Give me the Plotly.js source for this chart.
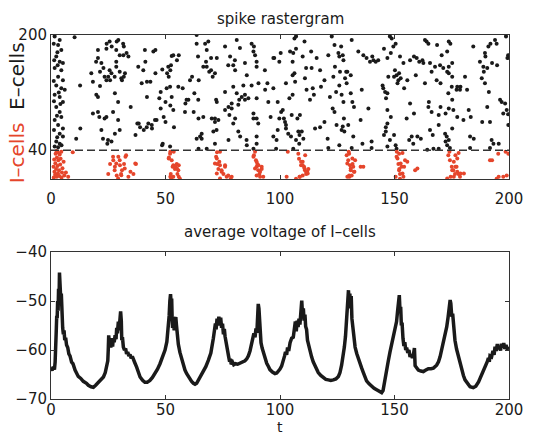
<!DOCTYPE html>
<html>
<head>
<meta charset="utf-8">
<script src="https://cdn.plot.ly/plotly-3.0.1.min.js"></script>
<style>html,body{margin:0;padding:0;background:#fff;}#chart{width:536px;height:437px;}</style>
</head>
<body>
<div id="chart"></div>
<script>
// ---- data ----
var titleTop = 'spike rastergram';
var titleBottom = 'average voltage of I–cells';
var xLabel = 't';
var xTicks = [0, 50, 100, 150, 200];
var rasterYTicks = [40, 200];
var voltYTicks = [-70, -60, -50, -40];
var iCellBoundary = 40;

// E-cell spikes: [time, cell index]
var eSpikes = [
[1.6,198],[3.8,193],[3.1,186],[4.5,179],[2.3,170],[3.8,163],[5.2,161],[1.6,154],[4.5,151],[3.1,142],[5.2,137],[2.3,130],[4.5,126],[6,124],[1.6,117],[3.8,114],[5.2,107],[2.3,100],[3.8,93],[4.5,86],[1.6,82],[3.1,75],[5.2,70],[3.8,63],[5.2,59],[2.3,52],[3.8,49],[1.6,45],[3.1,44],
[1.2,188],[2.8,176],[1.4,165],[2.9,158],[1.2,136],[3.4,120],[1.3,108],[4.1,104],[2.6,88],[1.3,68],[2.7,58],[4.6,47],
[10.3,197],[12.7,130],[12.8,70],[11,56],[25.6,191],[24.2,181],[20.5,168],[17.6,147],[18.3,135],[19.8,117],[20.5,114],[18.3,91],[23.4,84],[24.2,86],[22.7,56],[24.9,54],[26.4,52],[30,68],[29.3,82],[25.6,151],[26.4,147],[28.5,156],[27.8,142],[30,149],[30.7,140],[28.5,163],[29.3,107],[27.1,93],[22,161],[20.5,179],[23.4,142],[24.2,137],[20.5,93],[31.5,188],[30,172],[28.5,179],[22,68],
[19.7,163],[21.4,129],[21.1,86],[21.4,149],[22.9,154],[24.3,188],[25.0,142],[25.8,137],[24.6,49],[26.5,184],[27.9,119],[28.7,191],[29.4,193],[27.9,63],[31.6,172],[32.3,147],[33.0,175],
[33.8,170],[34.8,100],[37.7,77],[38.1,156],[38.9,72],[39.6,133],[40.3,151],[41.0,179],[41.8,72],[42.5,77],[44.0,75],[44.7,177],[45.4,82],[46.1,82],[47.3,112],[47.9,98],[48.8,49],[48.6,152],[47.9,121],[50.5,126],[51.2,156],[52.0,128],[52.4,158],[52.7,171],[53.4,172],[52.7,114],[53.4,96],[53.7,72],[52.0,45],[55.6,128],[57.5,126],[59.2,110],[60.0,110],[58.5,93],[60.7,137],[62.6,119],[63.6,200],[64.2,170],[65.1,59],[64.3,110],[65.8,56],[66.5,86],
[31.8,184],[45.6,179],[55.8,172],[55,165],[41.2,163],[31.8,142],[31,137],[45.6,147],[50.7,147],[52.1,151],[51.4,142],[41.9,135],[43.4,135],[61.6,142],[64.5,137],[41.9,114],[50,107],[52.1,102],[58.7,105],[62.3,93],[49.2,86],[50,79],[44.1,70],[38.3,77],[40.5,68],[36.9,61],[48.5,47],
[67.7,163],[68.7,191],[69.1,149],[69.9,151],[69.9,168],[70.6,142],[70.9,66],[71.6,84],[72.1,110],[72.3,68],[73.1,82],[71.6,49],[76.0,121],[77.4,158],[78.2,170],[79.6,128],[80.3,165],[81.1,193],[81.1,119],[78.9,105],[77.9,89],[79.6,77],[82.5,182],[82.2,110],[84.0,130],[84.7,110],[85.4,54],[87.6,188],[88.6,184],[89.1,172],[89.8,163],[87.6,130],[86.2,112],[89.8,112],[90.5,77],[88.4,84],[89.8,49],[93.4,151],[94.5,133],[94.9,107],[95.9,86],[97.1,59],[98.5,54],[99.7,163],
[63.6,188],[67.3,188],[68,179],[76,184],[88.4,177],[97.1,168],[72.4,168],[66.5,156],[68,156],[79.6,158],[84.7,161],[80.4,151],[89.8,156],[71.6,147],[85.5,144],[90.6,133],[93.5,124],[97.1,126],[72.4,107],[84.7,117],[83.3,114],[81.8,103],[78.9,98],[76,96],[77.5,100],[80.4,84],[88.4,91],[89.8,84],[70.2,84],[71.6,79],[64.4,84],[81.8,66],[65.8,63],[63.6,56],[89.8,59],[82.6,59],[77.5,54],[85.5,47],[64.4,42],[68,42],[88.4,42],
[100.3,175],[101.2,96],[101.7,84],[102.2,79],[102.6,75],[103.6,63],[104.4,177],[105.5,117],[106.6,135],[107.6,84],[105.8,175],[105.1,89],[108.0,66],[108.4,49],[109.5,66],[110.2,56],[108.7,89],[110.9,140],[111.6,124],[113.1,110],[113.8,154],[114.8,117],[116.0,168],[117.5,151],[115.3,70],[117.5,72],[121.1,172],[121.8,114],[122.6,198],[123.3,142],[124.0,156],[124.7,75],[125.5,175],[126.2,149],[126.9,68],[127.7,107],[128.4,140],[129.1,133],[129.8,75],[131.3,193],[132.0,59],[127.7,165],[125.9,130],[126.9,117],[127.9,84],[105.8,42],[121.1,43],[131.3,43],
[106.3,195],[107,198],[110.7,191],[123.8,186],[126.7,184],[97.5,168],[105.5,163],[107,181],[109.9,170],[113.6,177],[125.9,170],[127.4,172],[111.4,154],[128.9,149],[102.6,133],[105.5,144],[106.3,147],[114.3,126],[117.9,128],[119.4,137],[124.5,121],[104.1,112],[99,107],[123,98],[123.8,93],[100.5,93],[99.7,84],[102.6,70],[99,68],[119.4,79],[127.4,73],[128.1,66],[108.5,61],[104.8,59],[120.8,56],[107,54],[98.3,42],[125.9,47],
[134.2,177],[136.4,172],[137.8,168],[138.6,98],[139.3,163],[140.8,165],[140.0,52],[135.7,124],[142.9,165],[144.8,130],[145.1,126],[145.9,121],[146.3,112],[147.3,142],[148.0,198],[148.8,195],[146.9,77],[148.0,54],[149.5,184],[150.2,151],[150.9,42],[150.9,144],[151.7,137],[152.4,170],[153.9,161],[156.8,165],[155.3,84],[157.5,59],[158.2,49],[156.8,105],[159.7,168],[160.8,163],[162.6,161],[163.3,193],[164.0,191],[163.3,133],[164.8,100],[165.5,161],[166.2,149],[164.8,188],[166.2,93],[165.5,68],[166.7,61],[167.0,42],[140.0,43],
[145.4,181],[150.5,188],[140.3,170],[141.8,163],[146.9,168],[148.4,175],[158.5,170],[162.2,165],[129.4,149],[149.8,142],[152,147],[152.7,140],[155.6,137],[159.3,144],[130.9,144],[146.9,119],[151.3,133],[154.2,126],[130.9,119],[131.6,107],[132.3,100],[146.9,96],[148.4,86],[135.2,82],[158.5,91],[146.2,72],[146.2,66],[145.4,61],[149.8,61],[156.4,54],[160,59],[161.5,56],[136,49],[146.9,45],[150.5,47],
[167.7,156],[168.4,137],[169.9,158],[170.6,172],[171.3,154],[172.1,63],[172.8,59],[173.5,119],[175.0,128],[175.7,96],[177.1,124],[178.6,124],[180.1,82],[183.0,59],[183.3,86],[180.8,142],[184.4,184],[187.3,163],[188.1,140],[188.8,156],[189.5,175],[189.5,133],[191.0,184],[191.7,79],[192.4,54],[193.2,49],[193.9,193],[194.6,188],[196.1,110],[196.8,107],[197.5,91],[198.3,105],[199.0,96],[198.7,198],[199.3,168],[199.7,75],[174.2,43],[183.0,43],[191.7,43],[199.6,172],[199.6,90],
[168.6,186],[173.7,191],[174.4,188],[191.9,188],[173,177],[189.7,170],[173.7,156],[175.2,161],[192.6,161],[194.8,158],[173,149],[173.7,147],[175.2,142],[189,149],[190.5,154],[170.1,133],[177.4,128],[178.8,128],[181.7,124],[191.2,121],[165,107],[175.2,110],[170.1,100],[173.7,98],[182.4,96],[190.5,100],[169.3,89],[172.3,91],[177.4,86],[188.3,79],[169.3,75],[175.2,70],[173.7,54],[172.3,52],[184.6,56],[195.5,49],[169.3,42],[164.3,40.5],[173,47]
];

// I-cell spikes: [time, cell index]
var iSpikes = [
[1.2,2],[1.8,6],[2.5,3],[1.5,10],[2.2,14],[3,8],[2.8,18],[3.5,12],[1.9,22],[3.2,26],[4,20],[2.6,30],[3.8,34],[4.5,38],[3,37],[4.2,28],[5,15],[5.8,5],[4.6,2],[2,35],[6.5,9],[7.5,3],[9.5,37],[1.4,27],[2.4,39],[3.6,4],[4.8,9],[1.1,17],[5.5,24],
[27.1,31],[28.5,21.5],[30,26],[32.2,14.6],[27.8,12],[30.7,5.3],[29.3,0.7],[25.8,21],[27.2,26],[27.9,17],[29.4,31],[30.1,19],[30.6,7],[31.9,21],[32.8,33],[33.8,3],[36,7],[37.1,21],[25,7],[28.7,5],[32.5,31],[36.8,21.5],[34.7,10],[31,12],
[52,35],[52.7,26],[53.4,19],[54.1,14],[54.9,21],[55.6,12],[55.2,7],[53.4,3],[56.3,0.5],[52.3,7],[53.1,17],[52.1,38],[53.6,38],[54.3,17],[55.8,19],[55,14.6],[52.1,3],[55.8,3],[51.4,28.5],[51.5,30],[52.5,1.5],
[72.1,31],[72.6,21],[73.1,14],[73.8,19],[74.5,12],[75.3,7],[76,17],[76.7,3],[77.4,5],[78.5,0.5],[73.5,24],[73.8,38],[72.4,28.5],[71.6,21.5],[74.5,10],[72.4,7.6],[73.8,0.7],[78.9,3],[76,19],[72.5,37],
[88.6,33],[89.5,26],[89.8,17],[90.5,12],[91,7],[91.3,3],[92,14],[90.1,21],[89.1,38],[88.4,31],[89.8,24],[90.6,19],[92,17],[89.1,14.6],[91.3,10],[89.8,5],[92.7,3],
[108.3,28],[109.2,19],[109.9,24],[110.5,17],[110.9,12],[111.4,7],[111.9,10],[112.4,14],[108.7,3],[102.9,3],[109.2,24],[109.9,19],[110.7,14.6],[111.4,10],[109.9,5],[108.5,3],[112.1,7.6],[103.4,38],[107,0.5],[108,35],[111,33],
[129.1,33],[129.8,26],[130.6,19],[130.9,12],[131.3,5],[132,17],[130.3,3],[131.7,21],[136.4,17],[132.8,26],[130.2,35],[131.6,28.5],[129.4,21.5],[130.9,14.6],[132.3,10],[130.2,5],[135.2,17],[129.4,3],[130,38],[132.5,10],
[150.9,31],[151.7,21],[152.1,14],[152.4,7],[153.1,17],[153.9,3],[154.6,26],[159,12],[152.4,0.5],[152,35],[151.3,28.5],[152.7,21.5],[154.2,17],[152,12],[153.5,7.6],[150.5,3],[155.6,24],[160,14.6],[151,38],[153.5,36],
[173.5,33],[174.2,26],[175,17],[175.7,12],[176.4,7],[177.1,17],[177.9,7],[178.6,3],[174.5,3],[191.7,26],[176.6,33],[177.4,28.5],[175.9,24],[176.6,17],[175.2,12],[177.4,10],[178.8,7.6],[175.9,3],[180.3,7.6],[192.6,26],[195.5,3],[173,0.7],[174,38],[178,36],
[195.3,35],[197.5,3],[199,5],[199.7,35],[194.6,0.5],[198.5,38]
];

// average voltage of I-cells: time and value
var voltT = [0,0.5,1.0,1.5,1.8,2.1,2.3,2.5,2.7,2.9,3.1,3.3,3.5,3.7,3.9,4.1,4.3,4.5,4.7,4.9,5.1,5.4,5.7,6.0,6.4,6.8,7.3,7.8,8.3,9.0,9.6,10.5,11.9,13.0,14.1,15.5,16.3,17.5,18.5,19.5,20.7,21.8,22.9,23.7,24.3,24.8,25.0,25.2,25.5,25.8,26.1,26.5,26.9,27.2,27.6,28.0,28.4,28.7,29.0,29.4,29.7,30.0,30.4,30.7,30.9,31.2,31.6,32.1,32.6,33.0,33.5,34.0,34.5,35.0,35.5,36.0,36.6,37.4,38.2,38.9,40.0,41.0,42.0,43.2,44.3,45.4,46.5,47.6,48.7,49.8,50.6,51.2,51.6,51.9,52.2,52.5,52.7,52.9,53.1,53.4,53.8,54.1,54.5,54.8,55.2,55.6,56.3,57.1,57.8,58.5,59.2,60.0,61.4,62.2,62.9,63.6,64.3,65.4,66.5,67.6,68.7,69.8,70.9,71.4,71.8,72.1,72.5,72.9,73.3,73.7,74.1,74.5,74.9,75.3,75.7,76.0,76.4,76.8,77.2,77.6,78.0,78.3,78.7,79.3,79.8,80.5,81.5,82.5,83.5,84.7,85.5,86.2,86.9,87.6,88.1,88.6,89.1,89.5,89.9,90.2,90.5,90.8,91.0,91.3,91.7,92.2,92.7,93.4,94.2,95.0,95.6,96.7,97.8,98.6,99.3,100.0,100.7,101.4,102.0,102.4,102.9,103.3,103.8,104.4,105.1,105.8,106.3,106.7,107.1,107.5,107.9,108.3,108.7,109.1,109.5,109.8,110.2,110.5,110.9,111.2,111.6,112.0,112.4,113.1,113.8,114.5,115.3,116.0,116.7,117.8,118.9,120.0,121.1,122.2,123.3,124.4,125.5,126.2,126.9,127.6,128.1,128.6,129.0,129.3,129.6,129.9,130.2,130.5,130.8,131.1,131.4,131.8,132.2,132.8,133.5,134.2,134.9,135.6,136.4,137.1,137.8,138.9,140.0,141.1,142.2,143.3,144.4,145.0,145.6,146.1,146.6,147.3,148.0,148.7,149.5,150.2,150.9,151.4,151.8,152.1,152.4,152.7,153.0,153.3,153.7,154.1,154.5,154.9,155.3,155.8,156.3,156.8,157.3,157.8,158.3,158.7,159.0,159.6,160.4,161.5,162.6,163.7,164.8,165.9,167.0,168.4,169.2,169.9,170.6,171.3,172.1,172.8,173.4,173.9,174.3,174.6,175.0,175.4,175.8,176.4,177.1,177.9,178.6,179.3,180.1,180.8,181.9,183.0,184.4,185.5,186.7,187.8,188.8,189.9,190.6,191.0,191.4,191.7,192.4,193.0,193.5,193.9,194.4,194.9,195.3,195.8,196.3,196.7,197.2,197.7,198.2,198.7,199.3,200];
var voltV = [-63.5,-64.2,-63.4,-64.0,-62.5,-60,-56,-53,-53.5,-50,-52,-47.5,-50.5,-44.2,-47,-45,-50,-48.5,-52.5,-51.5,-55.5,-56.8,-56,-58,-57.5,-59,-59.5,-60.8,-61.2,-62.5,-62.8,-64.1,-65.4,-65.8,-66.4,-66.8,-67.2,-67.5,-67.6,-67.2,-66.6,-66.2,-65.5,-64.6,-63.6,-62.2,-60,-57,-58.5,-57.6,-59.5,-58.2,-59.3,-57.6,-58.4,-57,-57.8,-55.5,-56.6,-54.2,-56,-53,-52.1,-54,-58,-57.4,-59.4,-60,-59.7,-60.8,-60.4,-61.2,-60.9,-61.7,-61.3,-62.2,-62.6,-63.5,-64.6,-65.5,-66.2,-66.6,-66.6,-66.2,-65.6,-64.9,-63.9,-62.8,-61.6,-60,-58.3,-55.5,-53,-50,-48.6,-51,-49.5,-53.5,-55.5,-54.4,-56,-53.8,-53.3,-55,-57,-58.8,-60.5,-62,-63.2,-64.1,-64.8,-65.5,-66.4,-66.8,-67,-66.8,-66.2,-65.4,-64.5,-63.4,-62.1,-60.6,-57.6,-56.2,-54.6,-55.8,-53.6,-55,-53.2,-54.8,-53.4,-55.5,-54.6,-56.8,-55.7,-57.2,-58.5,-59.4,-60.3,-61.4,-62.4,-61.8,-62.9,-62.5,-63,-62.8,-62.9,-62.7,-62.6,-62.2,-61.8,-61.2,-60.2,-58.6,-57.2,-56.6,-57.4,-55.6,-56.5,-53.5,-50.6,-51.5,-54,-56.8,-58.5,-59.6,-60.5,-61.6,-62.7,-63.4,-64.0,-64.5,-64.8,-64.7,-64.4,-63.9,-63.3,-62.4,-61.2,-60.4,-61,-59.5,-60.2,-58.5,-57.6,-57.4,-55.5,-54.2,-56.2,-54,-55.3,-53.6,-54.8,-51.8,-49.9,-52.5,-51.5,-54,-52.8,-55.2,-55.8,-58,-58.9,-60.4,-61.4,-62.4,-63.3,-64.0,-64.6,-65.2,-65.7,-66,-66.1,-66.2,-66.1,-65.9,-65.4,-64.6,-63.1,-61.4,-59.4,-57.2,-54,-51.5,-48.8,-47.8,-50.5,-48.5,-51.5,-49,-53.6,-55.8,-57.8,-59.4,-60.7,-61.8,-62.7,-63.6,-64.6,-65.5,-66.3,-66.9,-67.4,-67.8,-68.1,-68.4,-68.7,-68.3,-66.5,-64.8,-63.4,-62.2,-60.5,-58.9,-56.9,-55.5,-54.2,-51.8,-49.5,-48.8,-52,-51.2,-55,-54.4,-57.6,-59.2,-58.4,-60,-59.5,-60.6,-60,-61.4,-60.9,-61.6,-60.8,-59.6,-63.2,-63.6,-64.1,-64.3,-64.4,-64.1,-63.8,-63.8,-63.7,-63.1,-62.4,-61.4,-60.1,-58.7,-57.1,-55.3,-53.3,-51.9,-49.8,-50.5,-53.2,-52.6,-55.8,-58,-59.8,-61.4,-62.8,-64.1,-65.2,-66.1,-66.9,-67.5,-67.7,-67.4,-66.5,-65.4,-64.1,-63,-62.3,-61.6,-62.4,-61.2,-61.4,-60.2,-61,-59.3,-60.2,-58.8,-59.8,-59.2,-60.1,-58.7,-59.5,-58.6,-59.8,-59,-59.9,-59.4];

// ---- drawing ----
var FONT = 'DejaVu Sans, Arial, sans-serif';
var INK = '#1a1a1a';
var RED = '#e5452b';

var traces = [
  {x: eSpikes.map(function(p){return p[0];}), y: eSpikes.map(function(p){return p[1];}),
   type:'scatter', mode:'markers', marker:{size:4, color:INK}, xaxis:'x', yaxis:'y', hoverinfo:'skip'},
  {x: iSpikes.map(function(p){return p[0];}), y: iSpikes.map(function(p){return p[1];}),
   type:'scatter', mode:'markers', marker:{size:4, color:RED}, xaxis:'x', yaxis:'y', hoverinfo:'skip'},
  {x: [xTicks[0], xTicks[xTicks.length-1]], y: [iCellBoundary, iCellBoundary],
   type:'scatter', mode:'lines', line:{color:'#333', width:1.5, dash:'8px,4px'}, xaxis:'x', yaxis:'y', hoverinfo:'skip'},
  {x: voltT, y: voltV, type:'scatter', mode:'lines', line:{color:INK, width:3.5}, xaxis:'x2', yaxis:'y2', hoverinfo:'skip'}
];

function axisBase(){
  return {showgrid:false, zeroline:false, showline:true, mirror:'ticks', linecolor:'#333', linewidth:1,
          ticks:'inside', ticklen:4, tickcolor:'#333', tickwidth:1,
          tickfont:{family:FONT, size:15, color:INK}};
}
var xa = axisBase(); xa.range=[0,200]; xa.tickvals=xTicks; xa.anchor='y'; xa.domain=[0,1]; xa.ticklabelstandoff=6;
var ya = axisBase(); ya.range=[0,200]; ya.tickvals=rasterYTicks; ya.anchor='x'; ya.domain=[0.6044,1]; ya.ticklabelstandoff=0;
var xa2 = axisBase(); xa2.range=[0,200]; xa2.tickvals=xTicks; xa2.anchor='y2'; xa2.domain=[0,1]; xa2.ticklabelstandoff=-3;
var ya2 = axisBase(); ya2.range=[-70,-40]; ya2.tickvals=voltYTicks; ya2.anchor='x2'; ya2.domain=[0,0.4038]; ya2.ticklabelstandoff=0;

var layout = {
  width:536, height:437,
  margin:{l:51, r:27, t:35, b:38},
  paper_bgcolor:'#fff', plot_bgcolor:'#fff',
  showlegend:false,
  xaxis:xa, yaxis:ya, xaxis2:xa2, yaxis2:ya2,
  annotations:[
    {text:titleTop, xref:'paper', yref:'paper', x:0.5, y:1.044, xanchor:'center', yanchor:'middle', showarrow:false,
     font:{family:FONT, size:15, color:INK}},
    {text:titleBottom, xref:'paper', yref:'paper', x:0.5, y:0.4588, xanchor:'center', yanchor:'middle', showarrow:false,
     font:{family:FONT, size:15, color:INK}},
    {text:xLabel, xref:'paper', yref:'paper', x:0.5, y:-0.1044, xanchor:'center', yanchor:'bottom', showarrow:false,
     font:{family:FONT, size:14, color:INK}},
    {text:'<span style="color:'+RED+'">I–cells</span>  E–cells', xref:'paper', yref:'paper', x:-0.074, y:0.785,
     xanchor:'center', yanchor:'middle', textangle:-90, showarrow:false, font:{family:FONT, size:20, color:INK}}
  ]
};

Plotly.newPlot('chart', traces, layout, {staticPlot:true, displayModeBar:false});
</script>
</body>
</html>
